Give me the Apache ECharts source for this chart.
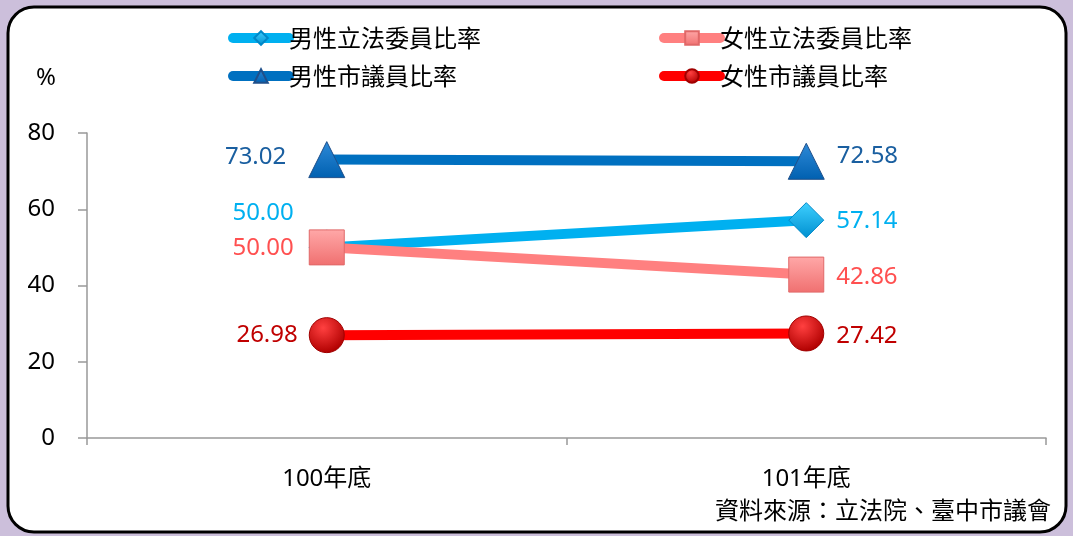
<!DOCTYPE html>
<html><head><meta charset="utf-8">
<script src="https://cdn.jsdelivr.net/npm/echarts@6/dist/echarts.min.js"></script>
<style>html,body{margin:0;padding:0;background:#ccbfdb;}#c{width:1073px;height:536px;}</style>
</head><body><div id="c"></div>
<script>
const categories = ['100年底', '101年底'];
const maleLegislators = [50.00, 57.14];
const femaleLegislators = [50.00, 42.86];
const maleCouncil = [73.02, 72.58];
const femaleCouncil = [26.98, 27.42];
const yTicks = [0, 20, 40, 60, 80];
const sourceText = '資料來源：立法院、臺中市議會';

const FONT = '"Noto Sans", "Noto Sans CJK TC", sans-serif';
const FS = 24;
const chart = echarts.init(document.getElementById('c'));

function labelled(values, color, leftCfg, rightCfg) {
  return values.map((v, i) => ({
    value: v,
    label: Object.assign({show: true, color: color, fontSize: FS, fontFamily: FONT,
      formatter: p => p.value.toFixed(2)}, i === 0 ? leftCfg : rightCfg)
  }));
}

const series = [
  {
    name: '男性立法委員比率', type: 'line', z: 3,
    data: labelled(maleLegislators, '#00b0f0',
      {position: 'left', distance: 0, offset: [-15, -34]},
      {position: 'right', distance: 12, offset: [0, 1]}),
    lineStyle: {color: '#00b0f0', width: 10},
    itemStyle: {color: new echarts.graphic.LinearGradient(0,0,0,1,[{offset:0,color:'#3fd0ff'},{offset:1,color:'#0090d0'}]), borderColor: '#0088c8', borderWidth: 1},
    symbol: 'diamond', symbolSize: 35
  },
  {
    name: '女性立法委員比率', type: 'line', z: 4,
    data: labelled(femaleLegislators, '#ff5050',
      {position: 'left', distance: 15, offset: [0, 1]},
      {position: 'right', distance: 12, offset: [0, 3]}),
    lineStyle: {color: '#ff8080', width: 10},
    itemStyle: {color: new echarts.graphic.LinearGradient(0,0,0,1,[{offset:0,color:'#ffa8a8'},{offset:1,color:'#f07070'}]), borderColor: '#e06868', borderWidth: 1},
    symbol: 'rect', symbolSize: 35
  },
  {
    name: '男性市議員比率', type: 'line', z: 3,
    data: labelled(maleCouncil, '#1a5fa0',
      {position: 'left', distance: 22, offset: [0, -2]},
      {position: 'right', distance: 12, offset: [0, -5]}),
    lineStyle: {color: '#0070c0', width: 10},
    itemStyle: {color: new echarts.graphic.LinearGradient(0,0,0,1,[{offset:0,color:'#2e8ad8'},{offset:1,color:'#0060b0'}]), borderColor: '#1f4f8a', borderWidth: 1},
    symbol: 'triangle', symbolSize: 36
  },
  {
    name: '女性市議員比率', type: 'line', z: 3,
    data: labelled(femaleCouncil, '#c00000',
      {position: 'left', distance: 11},
      {position: 'right', distance: 12, offset: [0, 3]}),
    lineStyle: {color: '#ff0000', width: 10},
    itemStyle: {color: new echarts.graphic.RadialGradient(0.4,0.3,0.7,[{offset:0,color:'#ff4040'},{offset:1,color:'#b00000'}]), borderColor: '#a00000', borderWidth: 1},
    symbol: 'circle', symbolSize: 35
  }
];

const legendCommon = {
  orient: 'vertical', itemWidth: 56, itemHeight: 17, itemGap: 14,
  lineStyle: {width: 10, cap: 'round'},
  textStyle: {fontSize: FS, fontFamily: '"Noto Sans CJK TC", sans-serif', color: '#000', padding: [0, 0, 0, -5]}
};

chart.setOption({
  backgroundColor: '#ccbfdb',
  animation: false,
  textStyle: {fontFamily: FONT},
  graphic: [
    {type: 'rect', z: -10, shape: {x: 8, y: 7, width: 1058, height: 525, r: 26},
     style: {fill: '#fff', stroke: '#000', lineWidth: 3}},
    {type: 'text', right: 1073 - 1051, top: 498, style: {text: sourceText, fontSize: FS, fontFamily: '"Noto Sans CJK TC", sans-serif', fill: '#000'}},
    {type: 'text', left: 36, top: 66, style: {text: '%', fontSize: FS, fontFamily: FONT, fill: '#000'}}
  ],
  legend: [
    Object.assign({}, legendCommon, {left: 223, top: 21, data: ['男性立法委員比率', '男性市議員比率']}),
    Object.assign({}, legendCommon, {left: 654, top: 21, data: ['女性立法委員比率', '女性市議員比率']})
  ],
  grid: {left: 87, right: 27, top: 133, bottom: 98},
  xAxis: {
    type: 'category', data: categories, boundaryGap: true,
    axisLine: {lineStyle: {color: '#999', width: 1.5}},
    axisTick: {show: true, length: 7, lineStyle: {color: '#999', width: 1.5}},
    axisLabel: {fontSize: FS, color: '#000', margin: 29, fontFamily: FONT}
  },
  yAxis: {
    type: 'value', min: yTicks[0], max: yTicks[yTicks.length - 1], interval: 20,
    splitLine: {show: false},
    axisLine: {show: true, lineStyle: {color: '#999', width: 1.5}},
    axisTick: {show: true, length: 9, lineStyle: {color: '#999', width: 1.5}},
    axisLabel: {fontSize: FS, color: '#000', margin: 32, fontFamily: FONT}
  },
  series: series
});
</script></body></html>
